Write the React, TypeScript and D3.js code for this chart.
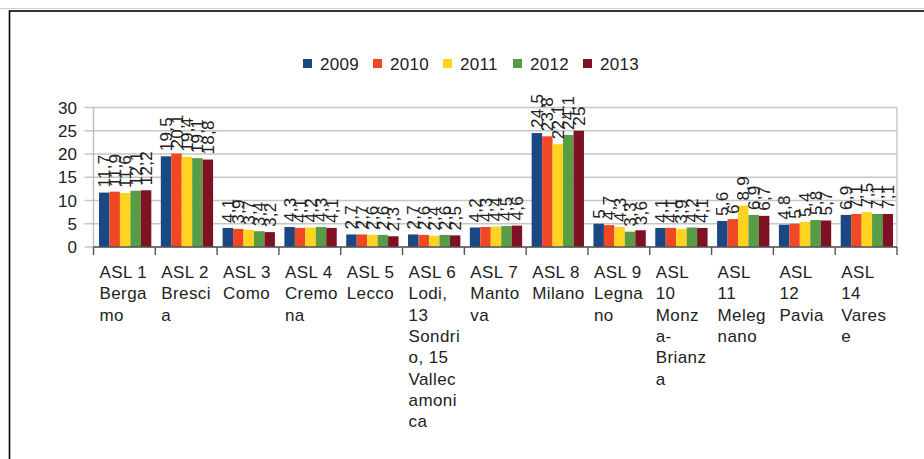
import React from "react";
import * as d3 from "d3";

const categories: string[][] = [
  ["ASL 1", "Berga", "mo"],
  ["ASL 2", "Bresci", "a"],
  ["ASL 3", "Como"],
  ["ASL 4", "Cremo", "na"],
  ["ASL 5", "Lecco"],
  ["ASL 6", "Lodi,", "13", "Sondri", "o, 15", "Vallec", "amoni", "ca"],
  ["ASL 7", "Manto", "va"],
  ["ASL 8", "Milano"],
  ["ASL 9", "Legna", "no"],
  ["ASL", "10", "Monz", "a-", "Brianz", "a"],
  ["ASL", "11", "Meleg", "nano"],
  ["ASL", "12", "Pavia"],
  ["ASL", "14", "Vares", "e"],
];

const years = ["2009", "2010", "2011", "2012", "2013"];
const colors = ["#1a4883", "#f04822", "#ffd320", "#579d45", "#7e1124"];

const v2009 = [11.7, 19.5, 4.1, 4.3, 2.7, 2.7, 4.2, 24.5, 5, 4.1, 5.6, 4.8, 6.9];
const v2010 = [11.9, 20.1, 3.9, 4.1, 2.7, 2.6, 4.3, 23.8, 4.7, 4.1, 6, 5, 7.1];
const v2011 = [11.6, 19.4, 3.7, 4.2, 2.6, 2.4, 4.4, 22.1, 4.3, 3.9, 8.9, 5.4, 7.5];
const v2012 = [12.1, 19.1, 3.4, 4.3, 2.6, 2.6, 4.5, 24.1, 3.3, 4.2, 6.9, 5.8, 7.1];
const v2013 = [12.2, 18.8, 3.2, 4.1, 2.3, 2.5, 4.6, 25, 3.6, 4.1, 6.7, 5.7, 7.1];
const series = [v2009, v2010, v2011, v2012, v2013];

const yTicks = [0, 5, 10, 15, 20, 25, 30];

const FONT = "'Liberation Sans', Arial, sans-serif";
const fmt = (v: number) => String(v).replace(".", ",");

export default function App() {
  const W = 924, H = 459;
  const x0 = 93.5, x1 = 897;
  const yTop = 107.5, yBot = 247;
  const x = d3.scaleBand<number>().domain(d3.range(categories.length)).range([x0, x1]).padding(0);
  const y = d3.scaleLinear().domain([0, 30]).range([yBot, yTop]);
  const bw = x.bandwidth();
  const inner = d3.scaleBand<number>().domain(d3.range(years.length)).range([5.5, bw - 4]).padding(0);
  const textColor = "#222";

  return (
    <svg width={W} height={H} style={{ position: "absolute", left: 0, top: 0, background: "#fff" }} fontFamily={FONT}>
      <line x1={0} x2={W} y1={8.5} y2={8.5} stroke="#cfcfcf" strokeWidth={1} />
      <rect x={9.5} y={11} width={W + 10} height={H + 10} fill="#fff" stroke="#000" strokeWidth={1.6} />

      {/* legend */}
      {years.map((yr, i) => (
        <g key={yr} transform={`translate(${303 + i * 70},0)`}>
          <rect x={0} y={59} width={9} height={9} fill={colors[i]} />
          <text x={17} y={69.5} fontSize={17} letterSpacing={0.3} fill={textColor}>{yr}</text>
        </g>
      ))}

      {/* grid */}
      {yTicks.map((t) => (
        <g key={t}>
          <line x1={x0 - 9} x2={x1} y1={y(t)} y2={y(t)} stroke="#c6c6c6" strokeWidth={1.4} />
          <text x={77} y={y(t) + 6} fontSize={17} textAnchor="end" fill={textColor}>{t}</text>
        </g>
      ))}
      <line x1={x0} x2={x0} y1={yTop} y2={yBot} stroke="#bdbdbd" strokeWidth={1.4} />
      <line x1={x1} x2={x1} y1={yTop} y2={yBot} stroke="#c6c6c6" strokeWidth={1.4} />

      {/* bars */}
      {categories.map((c, ci) => (
        <g key={ci}>
          {series.map((s, si) => {
            const bx = (x(ci) as number) + (inner(si) as number);
            const v = s[ci];
            return (
              <rect key={si} x={bx} y={y(v)} width={inner.bandwidth()} height={yBot - y(v)} fill={colors[si]} />
            );
          })}
        </g>
      ))}

      {/* x axis */}
      <line x1={x0} x2={x1} y1={yBot} y2={yBot} stroke="#555" strokeWidth={1.4} />
      {d3.range(categories.length + 1).map((i) => {
        const tx = i < categories.length ? (x(i) as number) : x1;
        return <line key={i} x1={tx} x2={tx} y1={yBot} y2={yBot + 8} stroke="#555" strokeWidth={1.4} />;
      })}

      {/* data labels */}
      {categories.map((c, ci) => (
        <g key={"l" + ci}>
          {series.map((s, si) => {
            const cx = (x(ci) as number) + (inner(si) as number) + inner.bandwidth() / 2 + 6;
            const v = s[ci];
            const ty = y(v) - 5;
            return (
              <text key={si} transform={`translate(${cx},${ty}) rotate(-90)`} fontSize={17} letterSpacing={0.3} fill={textColor}>
                {fmt(v)}
              </text>
            );
          })}
        </g>
      ))}

      {/* category labels */}
      {categories.map((lines, ci) => (
        <text key={"c" + ci} fontSize={17} letterSpacing={0.4} fill={textColor}>
          {lines.map((ln, li) => (
            <tspan key={li} x={(x(ci) as number) + 6} y={278 + li * 21.3}>{ln}</tspan>
          ))}
        </text>
      ))}
    </svg>
  );
}
